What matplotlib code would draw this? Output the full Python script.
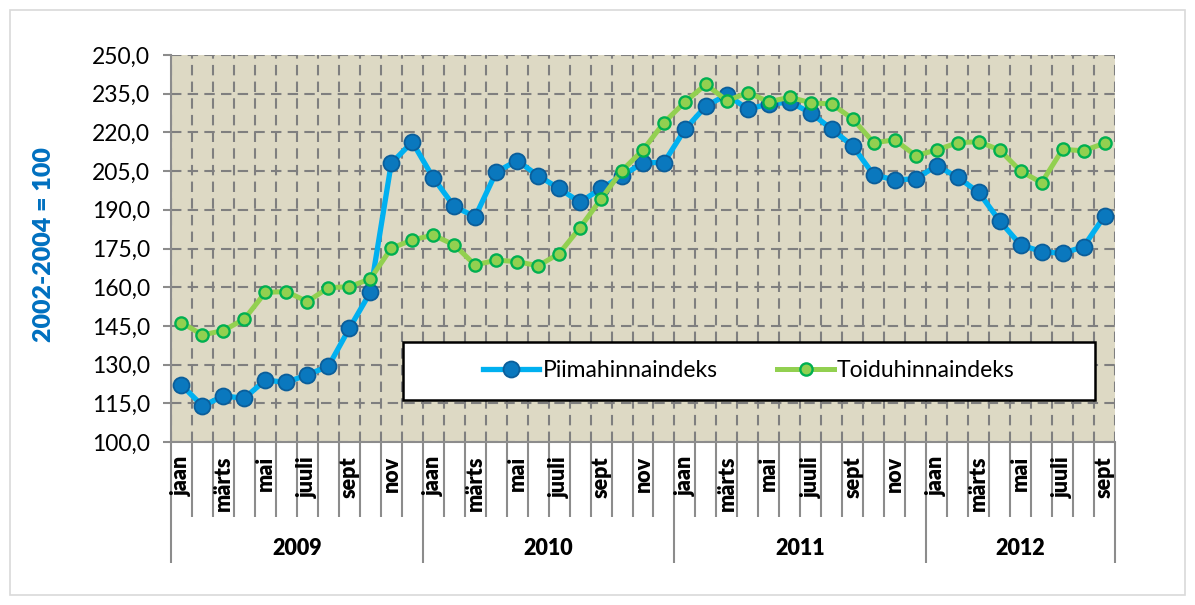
import matplotlib
matplotlib.use("Agg")
import matplotlib.pyplot as plt
from matplotlib.patches import Rectangle
from matplotlib.ticker import FixedLocator, FuncFormatter

plt.rcParams['font.family'] = ['Lato', 'DejaVu Sans']

years = ["2009", "2010", "2011", "2012"]
months_per_year = [12, 12, 12, 9]
month_labels = ["jaan", "", "märts", "", "mai", "", "juuli", "", "sept", "", "nov", ""]

piim = [122.1, 114.0, 117.8, 117.0, 124.0, 123.1, 126.1, 129.3, 144.0, 158.0, 208.0, 216.3,
        202.4, 191.3, 187.3, 204.6, 209.1, 203.2, 198.3, 192.9, 198.3, 203.1, 208.3, 208.3,
        221.2, 230.2, 234.6, 229.0, 231.0, 231.7, 227.6, 221.2, 214.7, 203.5, 201.6, 202.0,
        207.1, 202.6, 196.8, 185.7, 176.4, 173.8, 173.1, 175.7, 187.6]
toit = [146.3, 141.5, 143.2, 147.7, 158.0, 158.3, 154.4, 159.8, 160.2, 163.2, 175.1, 178.3,
        180.2, 176.4, 168.6, 170.5, 169.9, 168.3, 173.0, 183.1, 194.2, 205.2, 213.2, 223.8,
        231.8, 238.6, 232.3, 235.4, 231.9, 233.6, 231.5, 231.0, 225.2, 216.0, 217.1, 211.0,
        213.2, 216.0, 216.4, 213.2, 205.0, 200.5, 213.4, 212.9, 215.8]

n = len(piim)
x = [i + 0.5 for i in range(n)]

fig = plt.figure(figsize=(11.95, 6.05), dpi=100)
fig.patches.append(Rectangle((10 / 1195, 10 / 605), 1175 / 1195, 585 / 605,
                             transform=fig.transFigure, fill=False,
                             edgecolor="#D9D9D9", lw=1.2))
ax = fig.add_axes([171 / 1195, 1 - 442 / 605, 944 / 1195, 387 / 605])
ax.set_facecolor("#DDD9C4")

ax.plot(x, piim, color="#00B0F0", lw=3.8, marker="o", markersize=11.5,
        markerfacecolor="#0A78BE", markeredgecolor="#0B5E9A", markeredgewidth=1.3,
        label="Piimahinnaindeks", zorder=3)
ax.plot(x, toit, color="#92D050", lw=3.6, marker="o", markersize=8.8,
        markerfacecolor="#92D050", markeredgecolor="#00B050", markeredgewidth=1.7,
        label="Toiduhinnaindeks", zorder=4)

ax.set_xlim(0, n)
ax.set_ylim(100, 250)
ax.set_yticks([100 + 15 * k for k in range(11)])
ax.yaxis.set_major_formatter(FuncFormatter(lambda v, p: f"{v:.1f}".replace(".", ",")))

# year boundaries as major ticks, month boundaries as minor ticks
bounds = [0]
for m in months_per_year:
    bounds.append(bounds[-1] + m)
ax.xaxis.set_major_locator(FixedLocator(bounds))
ax.xaxis.set_minor_locator(FixedLocator([i for i in range(n + 1) if i not in bounds]))
ax.set_xticklabels([])

grid_kw = dict(color="#7F7F7F", lw=1.5, linestyle=(0, (5, 3)))
ax.grid(True, which="both", axis="x", **grid_kw)
ax.grid(True, which="major", axis="y", **grid_kw)
ax.set_axisbelow(True)

for s in ["top", "right"]:
    ax.spines[s].set_visible(False)
for s in ["left", "bottom"]:
    ax.spines[s].set_color("#8C8C8C")
    ax.spines[s].set_linewidth(1.5)

ax.tick_params(axis="y", direction="out", length=6, width=1.5, color="#8C8C8C",
               labelsize=16.5, pad=9)
ax.tick_params(axis="x", which="major", direction="out", length=87, width=1.5, color="#8C8C8C")
ax.tick_params(axis="x", which="minor", direction="out", length=54, width=1.5, color="#8C8C8C")

tr = ax.get_xaxis_transform()
for i in range(n):
    lab = month_labels[i % 12]
    if lab:
        ax.text(x[i], -0.036, lab, transform=tr, rotation=90, ha="center", va="top",
                fontsize=15.5, fontweight=800)
for k, yr in enumerate(years):
    ax.text((bounds[k] + bounds[k + 1]) / 2, -0.274, yr, transform=tr, ha="center",
            va="center", fontsize=15.5, fontweight=800)

# legend box
ax.add_patch(Rectangle((0.2458, 0.1085), 0.733, 0.15, transform=ax.transAxes,
                       facecolor="white", edgecolor="black", lw=1.8, zorder=5))
leg = ax.legend(loc="center", bbox_to_anchor=(0.6123, 0.1835), ncol=2, frameon=False,
                fontsize=16.5, handlelength=2.45, handletextpad=0.15, columnspacing=2.6)
leg.set_zorder(6)

fig.text(44 / 1195, 1 - 245 / 605, "2002-2004 = 100", rotation=90, ha="center", va="center",
         fontsize=18, fontweight=800, color="#0070C0")

fig.savefig("out.png", dpi=100)
